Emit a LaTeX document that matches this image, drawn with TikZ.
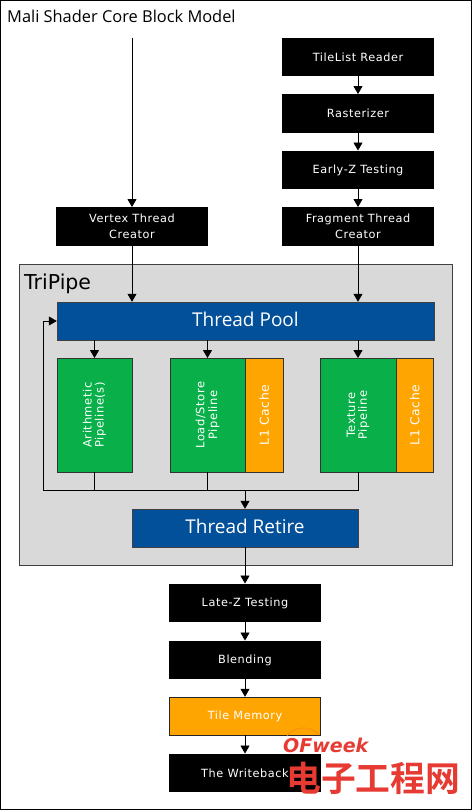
\documentclass[tikz,border=0pt]{standalone}
\usepackage{fontspec}
\setmainfont{DejaVu Sans}
\newfontfamily\titlefont{Open Sans}
\newfontfamily\boxfont{DejaVu Sans}[LetterSpace=5]
\newfontfamily\markfont{Noto Sans CJK SC}[BoldFont={* Bold}]
\usetikzlibrary{arrows.meta,positioning}
\definecolor{poolblue}{HTML}{03509A}
\definecolor{pipegreen}{HTML}{09B04A}
\definecolor{cacheorange}{HTML}{FFA502}
\definecolor{tripipegray}{HTML}{D9D9D9}
\definecolor{markred}{HTML}{E63A32}
\tikzset{
  blackbox/.style={fill=black,text=white,minimum width=152pt,minimum height=38.5pt,inner sep=0pt,align=center,font=\boxfont\fontsize{11.3}{16}\selectfont},
  poolbox/.style={draw=black!75,fill=poolblue,text=white,minimum height=38pt,inner sep=0pt,text depth=3pt,font=\titlefont\fontsize{19}{22}\selectfont},
  pipebox/.style={draw=black!80,fill=pipegreen,text=white,minimum width=75.5pt,minimum height=113.5pt,inner sep=0pt,font=\boxfont\fontsize{11.5}{15}\selectfont},
  cachebox/.style={draw=black!80,fill=cacheorange,text=white,minimum width=37.5pt,minimum height=113.5pt,inner sep=0pt,font=\boxfont\fontsize{12.3}{15}\selectfont},
  flow/.style={->,line width=0.8pt}
}
\begin{document}
\begin{tikzpicture}[x=1pt,y=-1pt,>={Triangle[length=8pt,width=9pt]}]
  \useasboundingbox (0,0) rectangle (472,811);
  \draw[line width=1pt] (0.5,0.5) rectangle (471,809.5);
  \node[anchor=west,inner sep=0pt,font=\titlefont\fontsize{16.4}{18}\selectfont] (title) at (7,16.5) {Mali Shader Core Block Model};
  % tripipe panel first, arrows run over it
  \draw[draw=black!75,fill=tripipegray,line width=0.8pt] (19,264) rectangle (452,565);
  \node[anchor=west,inner sep=0pt,font=\fontsize{20.5}{22}\selectfont] (tripipe) at (24,284) {TriPipe};
  \foreach \n/\x/\y/\t in {reader/358/57/TileList Reader,raster/358/113.5/Rasterizer,earlyz/358/170/Early-Z Testing,
    fragment/358/226.5/{Fragment Thread\\Creator},vertex/132/226.5/{Vertex Thread\\Creator},
    latez/245/603/Late-Z Testing,blending/245/660/Blending,writeback/245/773/The Writeback}{
    \node[blackbox] (\n) at (\x,\y) {\t};
  }
  \node[blackbox,draw=black!85,fill=cacheorange,minimum width=151pt,minimum height=38pt] (tilemem) at (245,716) {Tile Memory};
  \node[poolbox,minimum width=377pt] (pool) at (245.5,321) {Thread Pool};
  \node[poolbox,minimum width=226pt] (retire) at (245,528) {Thread Retire};
  \node[pipebox] (arith) at (94.5,415) {\rotatebox{90}{\shortstack{Arithmetic\\Pipeline(s)}}};
  \node[pipebox] (load) at (207.5,415) {\rotatebox{90}{\shortstack{Load/Store\\Pipeline}}};
  \node[pipebox] (texture) at (358,415) {\rotatebox{90}{\shortstack{Texture\\Pipeline}}};
  \node[cachebox,right=0pt of load] (cacheb) {\rotatebox{90}{L1 Cache}};
  \node[cachebox,right=0pt of texture] (cachec) {\rotatebox{90}{L1 Cache}};
  \coordinate (vstart) at (132,38);
  \coordinate (busleft) at (43,490);
  \coordinate (busmid) at (245,490);
  \draw[flow] (vstart) -- (vertex.north);
  \draw[flow] (reader) -- (raster);
  \draw[flow] (raster) -- (earlyz);
  \draw[flow] (earlyz) -- (fragment);
  \draw[flow] (vertex.south) -- (vertex.south |- pool.north);
  \draw[flow] (fragment.south) -- (fragment.south |- pool.north);
  \foreach \n in {arith,load,texture}{
    \draw[flow] (\n.north |- pool.south) -- (\n.north);
  }
  \draw[flow] (texture.south) |- (busleft) |- (pool.west);
  \draw[line width=0.8pt] (arith.south) -- (arith.south |- busleft);
  \draw[line width=0.8pt] (load.south) -- (load.south |- busleft);
  \draw[flow] (busmid) -- (retire.north);
  \draw[flow] (retire) -- (latez);
  \draw[flow] (latez) -- (blending);
  \draw[flow] (blending) -- (tilemem);
  \draw[flow] (tilemem) -- (writeback);
  % watermark sits on top
  \draw[cacheorange!75!markred,line width=0.7pt] (287,736) .. controls (294,727) and (310,724) .. (319,735);
  \node[anchor=west,text=markred,font=\bfseries\itshape\fontsize{19}{20}\selectfont,inner sep=0pt] (ofweek) at (283,745.5) {OFweek};
  \node[anchor=west,text=markred,font=\markfont\bfseries\fontsize{34.8}{36}\selectfont,inner sep=0pt] (mark) at (286,778) {电子工程网};
\end{tikzpicture}
\end{document}
